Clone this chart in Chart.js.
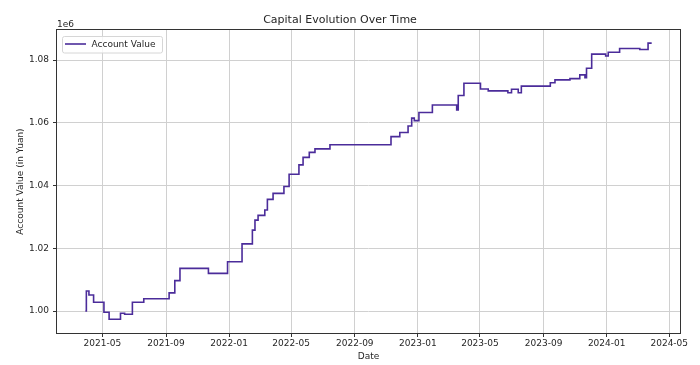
<!DOCTYPE html>
<html>
<head>
<meta charset="utf-8">
<script src="https://cdn.jsdelivr.net/npm/chart.js@4/dist/chart.umd.min.js"></script>
<style>
  html, body { margin: 0; padding: 0; background: #fff; }
  #chart { display: block; }
</style>
</head>
<body>
<canvas id="chart" width="700" height="365"></canvas>
<script>
// step points: date the value changes, new account value
var dates = [
    '2021-03-29', '2021-03-31', '2021-04-05', '2021-04-14', '2021-05-04', '2021-05-14',
    '2021-06-05', '2021-06-13', '2021-06-28', '2021-07-20', '2021-09-07', '2021-09-18',
    '2021-09-28', '2021-11-22', '2021-12-29', '2022-01-26', '2022-02-15', '2022-02-20',
    '2022-02-26', '2022-03-11', '2022-03-16', '2022-03-27', '2022-04-17', '2022-04-27',
    '2022-05-16', '2022-05-24', '2022-06-05', '2022-06-16', '2022-07-15', '2022-11-10',
    '2022-11-27', '2022-12-13', '2022-12-20', '2022-12-25', '2023-01-03', '2023-01-29',
    '2023-03-17', '2023-03-20', '2023-03-31', '2023-05-02', '2023-05-17', '2023-06-24',
    '2023-07-01', '2023-07-14', '2023-07-20', '2023-09-14', '2023-09-23', '2023-10-22',
    '2023-11-10', '2023-11-20', '2023-11-23', '2023-12-03', '2023-12-30', '2024-01-04',
    '2024-01-26', '2024-03-05', '2024-03-21', '2024-03-28'
];
var accountValues = [
    1000000, 1006400, 1005100, 1002800, 999600, 997400,
    999300, 999000, 1002800, 1003900, 1005800, 1009700,
    1013600, 1012000, 1015700, 1021400, 1025800, 1029000,
    1030500, 1032200, 1035600, 1037500, 1039700, 1043600,
    1046600, 1049000, 1050600, 1051700, 1053000, 1055600,
    1056900, 1059000, 1061500, 1060700, 1063300, 1065700,
    1064100, 1068700, 1072600, 1070800, 1070200, 1069600,
    1070700, 1069600, 1071700, 1072800, 1073700, 1074100,
    1075300, 1074400, 1077400, 1081900, 1081300, 1082500,
    1083700, 1083400, 1085400, 1085400
];
var xTicks = ['2021-05', '2021-09', '2022-01', '2022-05', '2022-09', '2023-01', '2023-05', '2023-09', '2024-01', '2024-05'];
var yTicks = [1.00, 1.02, 1.04, 1.06, 1.08];

var lineColor = '#4b2c9a';
var gridColor = '#d0d0d0';
var inkColor = '#262626';

function toTime(s) {
    return Date.parse(s + 'T00:00:00Z');
}
function fmtMonth(v) {
    var d = new Date(v);
    var m = d.getUTCMonth() + 1;
    return d.getUTCFullYear() + '-' + (m < 10 ? '0' + m : m);
}

Chart.defaults.font.family = '"DejaVu Sans", sans-serif';
Chart.defaults.color = inkColor;

// box round the plot, "1e6" offset text and the legend inside the axes
var framePlugin = {
    id: 'frame',
    afterDraw: function(chart) {
        var ctx = chart.ctx;
        var a = chart.chartArea;
        ctx.save();
        ctx.strokeStyle = '#333';
        ctx.lineWidth = 1;
        ctx.strokeRect(Math.round(a.left) - 0.5, Math.round(a.top) - 0.5,
            Math.round(a.right - a.left) + 1, Math.round(a.bottom - a.top) + 1);

        ctx.font = '9px "DejaVu Sans"';
        ctx.fillStyle = inkColor;
        ctx.textAlign = 'left';
        ctx.textBaseline = 'alphabetic';
        ctx.fillText('1e6', a.left, a.top - 3.5);

        var bx = a.left + 5, by = a.top + 6, bw = 100, bh = 16.5;
        ctx.beginPath();
        ctx.roundRect(bx + 0.5, by + 0.5, bw, bh, 2);
        ctx.fillStyle = 'rgba(255,255,255,0.8)';
        ctx.fill();
        ctx.strokeStyle = '#d6d6d6';
        ctx.stroke();

        ctx.beginPath();
        ctx.moveTo(bx + 3, by + 8);
        ctx.lineTo(bx + 24, by + 8);
        ctx.strokeStyle = lineColor;
        ctx.lineWidth = 1.6;
        ctx.stroke();

        ctx.fillStyle = inkColor;
        ctx.textBaseline = 'middle';
        ctx.fillText(chart.data.datasets[0].label, bx + 29.5, by + 8.5);
        ctx.restore();
    }
};

new Chart(document.getElementById('chart'), {
    type: 'line',
    data: {
        datasets: [{
            label: 'Account Value',
            data: dates.map(function(d, i) { return { x: toTime(d), y: accountValues[i] }; }),
            borderColor: lineColor,
            borderWidth: 1.6,
            stepped: 'before',
            pointRadius: 0,
            fill: false
        }]
    },
    options: {
        responsive: false,
        animation: false,
        devicePixelRatio: 1,
        layout: { padding: { left: 0, right: 20, top: 0, bottom: 0 } },
        plugins: {
            legend: { display: false },
            tooltip: { enabled: false },
            title: {
                display: true,
                text: 'Capital Evolution Over Time',
                color: inkColor,
                font: { size: 11, weight: 'normal' },
                padding: { top: 14, bottom: 2.8 }
            }
        },
        scales: {
            x: {
                type: 'linear',
                min: toTime('2021-02-02') + 6 * 3600e3,
                max: toTime('2024-05-21') + 18 * 3600e3,
                afterBuildTicks: function(s) {
                    s.ticks = xTicks.map(function(m) { return { value: toTime(m + '-01') }; });
                },
                afterFit: function(s) {
                    s.height = 32;
                    s.paddingLeft = 0;
                    s.paddingRight = 0;
                },
                ticks: {
                    callback: fmtMonth,
                    font: { size: 9 },
                    padding: 1,
                    maxRotation: 0,
                    autoSkip: false
                },
                grid: { color: gridColor, tickColor: '#333', tickLength: 4 },
                border: { display: false },
                title: {
                    display: true,
                    text: 'Date',
                    font: { size: 9 },
                    padding: { top: 0, bottom: 3 }
                }
            },
            y: {
                min: 993000,
                max: 1089600,
                afterBuildTicks: function(s) {
                    s.ticks = yTicks.map(function(v) { return { value: Math.round(v * 1e6) }; });
                },
                afterFit: function(s) {
                    s.width = 57;
                    s.paddingTop = 0;
                    s.paddingBottom = 0;
                },
                ticks: {
                    callback: function(v) { return (v / 1e6).toFixed(2); },
                    font: { size: 9 },
                    padding: 4
                },
                grid: { color: gridColor, tickColor: '#333', tickLength: 4 },
                border: { display: false },
                title: {
                    display: true,
                    text: 'Account Value (in Yuan)',
                    font: { size: 9 },
                    padding: { top: 15, bottom: 0 }
                }
            }
        }
    },
    plugins: [framePlugin]
});
</script>
</body>
</html>
